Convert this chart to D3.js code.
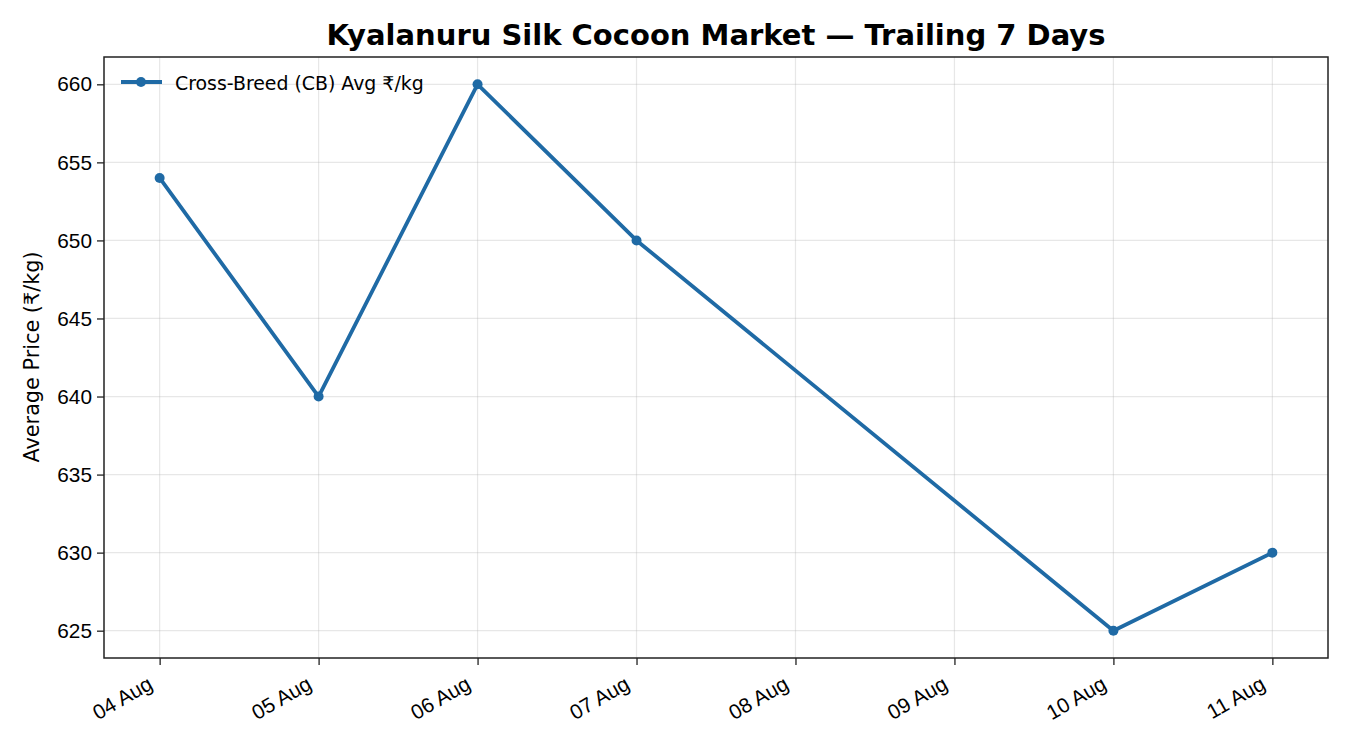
<!DOCTYPE html>
<html><head><meta charset="utf-8">
<script src="https://cdn.jsdelivr.net/npm/d3@7"></script>
<style>body{margin:0;background:#fff}svg{display:block;font-family:"DejaVu Sans",sans-serif}</style>
</head><body><svg id="c" width="1350" height="750"></svg>
<script>
const dates = ["2024-08-04","2024-08-05","2024-08-06","2024-08-07","2024-08-10","2024-08-11"];
const prices = [654, 640, 660, 650, 625, 630];
const tickDates = ["2024-08-04","2024-08-05","2024-08-06","2024-08-07","2024-08-08","2024-08-09","2024-08-10","2024-08-11"];
const yTicks = [625, 630, 635, 640, 645, 650, 655, 660];
const seriesName = "Cross-Breed (CB) Avg ₹/kg";
const title = "Kyalanuru Silk Cocoon Market — Trailing 7 Days";
const yLabel = "Average Price (₹/kg)";

const parse = d3.utcParse("%Y-%m-%d");
const data = dates.map((d,i)=>({date:parse(d), v:prices[i]}));
const svg = d3.select("#c");
const L=104, R=1328, T=57, B=658;
const x0 = parse(dates[0]).getTime(), x1 = parse(dates[dates.length-1]).getTime();
const pad = (x1-x0)*0.05;
const x = d3.scaleUtc().domain([new Date(x0-pad), new Date(x1+pad)]).range([L,R]);
const yMin = d3.min(prices), yMax = d3.max(prices), yp=(yMax-yMin)*0.05;
const y = d3.scaleLinear().domain([yMin-yp, yMax+yp]).range([B,T]);
const color = "#1f6aa5";

// grid
const g = svg.append("g");
g.selectAll(".gx").data(tickDates.map(parse)).join("line")
  .attr("x1",d=>x(d)).attr("x2",d=>x(d)).attr("y1",T).attr("y2",B)
  .attr("stroke","#b0b0b0").attr("stroke-opacity",0.3).attr("stroke-width",1.2);
g.selectAll(".gy").data(yTicks).join("line")
  .attr("x1",L).attr("x2",R).attr("y1",d=>y(d)).attr("y2",d=>y(d))
  .attr("stroke","#b0b0b0").attr("stroke-opacity",0.3).attr("stroke-width",1.2);

// axes
const xa = svg.append("g").attr("transform",`translate(0,${B})`)
  .call(d3.axisBottom(x).tickValues(tickDates.map(parse)).tickFormat(d3.utcFormat("%d %b")).tickSize(7).tickSizeOuter(0));
xa.select(".domain").remove();
xa.selectAll("line").attr("stroke","#222").attr("stroke-width",1.3);
xa.selectAll("text").attr("font-size",20.8).attr("fill","#000")
  .attr("text-anchor","end").attr("dy",null).attr("y",0)
  .attr("transform","translate(-6,30) rotate(-30)");

const ya = svg.append("g").attr("transform",`translate(${L},0)`)
  .call(d3.axisLeft(y).tickValues(yTicks).tickSize(7).tickSizeOuter(0));
ya.select(".domain").remove();
ya.selectAll("line").attr("stroke","#222").attr("stroke-width",1.3);
ya.selectAll("text").attr("font-size",20.8).attr("fill","#000").attr("x",-12);

svg.append("rect").attr("x",L).attr("y",T).attr("width",R-L).attr("height",B-T)
  .attr("fill","none").attr("stroke","#222").attr("stroke-width",1.5);

// line
svg.append("path").datum(data)
  .attr("d",d3.line().x(d=>x(d.date)).y(d=>y(d.v)))
  .attr("fill","none").attr("stroke",color).attr("stroke-width",3.8).attr("stroke-linejoin","round");
svg.selectAll(".pt").data(data).join("circle")
  .attr("cx",d=>x(d.date)).attr("cy",d=>y(d.v)).attr("r",5).attr("fill",color);

// legend
const lg = svg.append("g");
lg.append("line").attr("x1",121).attr("x2",162).attr("y1",82).attr("y2",82).attr("stroke",color).attr("stroke-width",3.8);
lg.append("circle").attr("cx",141).attr("cy",82).attr("r",5).attr("fill",color);
lg.append("text").attr("x",175).attr("y",83).attr("dy","0.35em").attr("font-size",18.9).text(seriesName);

// titles
svg.append("text").attr("x",716).attr("y",45).attr("text-anchor","middle")
  .attr("font-size",29).attr("font-weight","bold").text(title);
svg.append("text").attr("transform","translate(39,357) rotate(-90)").attr("text-anchor","middle")
  .attr("font-size",20.8).text(yLabel);
</script></body></html>
